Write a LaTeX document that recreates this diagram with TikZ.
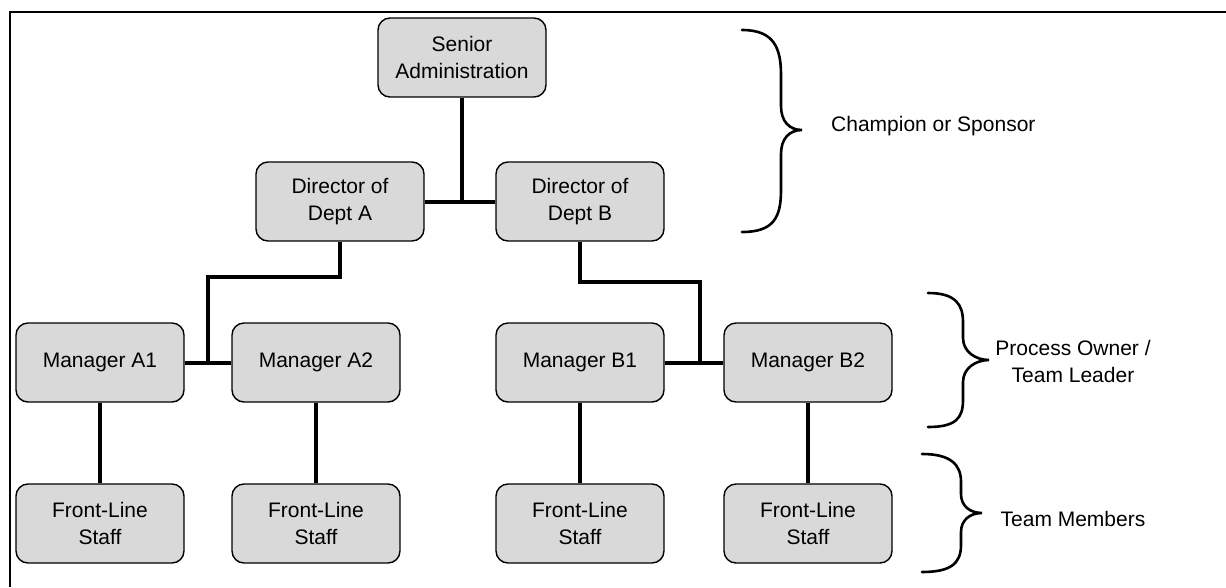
\documentclass[tikz,border=0pt]{standalone}
\usepackage{fontspec}
\setmainfont{Liberation Sans}
\begin{document}
\begin{tikzpicture}[x=1pt,y=-1pt,
  box/.style={draw=black, line width=1.4pt, fill=boxgray, rounded corners=12pt,
    minimum width=168pt, minimum height=79pt, inner sep=0pt, align=center,
    font=\fontsize{21}{27}\selectfont},
  link/.style={line width=4pt},
  bracestyle/.style={line width=2.6pt, line cap=round},
  lbl/.style={font=\fontsize{21}{27}\selectfont, align=center, inner sep=0pt}]
\definecolor{boxgray}{HTML}{D9D9D9}
\useasboundingbox (0,0) rectangle (1226,587);
% frame
\draw[line width=1.8pt] (10,587) -- (10,12) -- (1226,12);
% nodes
\node[box] (sa) at (462,57.5) {Senior\\Administration};
\node[box] (da) at (340,201.5) {Director of\\Dept A};
\node[box] (db) at (580,201.5) {Director of\\Dept B};
\node[box] (ma1) at (100,362.5) {Manager A1};
\node[box] (ma2) at (316,362.5) {Manager A2};
\node[box] (mb1) at (580,362.5) {Manager B1};
\node[box] (mb2) at (808,362.5) {Manager B2};
\node[box] (fa1) at (100,523.5) {Front-Line\\Staff};
\node[box] (fa2) at (316,523.5) {Front-Line\\Staff};
\node[box] (fb1) at (580,523.5) {Front-Line\\Staff};
\node[box] (fb2) at (808,523.5) {Front-Line\\Staff};
% connectors
\coordinate (ka) at (208,277);
\coordinate (kb) at (700,282);
\draw[link] (da.east) -- (db.west);
\draw[link] (sa.south) -- (sa.south |- da.east);
\draw[link] (ma1.east) -- (ma2.west);
\draw[link] (da.south) |- (ka) -- (ka |- ma1.east);
\draw[link] (mb1.east) -- (mb2.west);
\draw[link] (db.south) |- (kb) -- (kb |- mb1.east);
\draw[link] (ma1.south) -- (fa1.north);
\draw[link] (ma2.south) -- (fa2.north);
\draw[link] (mb1.south) -- (fb1.north);
\draw[link] (mb2.south) -- (fb2.north);
% braces
\draw[bracestyle] (742,30) .. controls (774,30) and (781,48) .. (781,75) -- (781,106)
  .. controls (781,121) and (789,130) .. (802,130)
  .. controls (789,130) and (781,139) .. (781,154) -- (781,190)
  .. controls (781,217) and (774,232) .. (742,232);
\draw[bracestyle] (928,293) .. controls (956,293) and (963,305) .. (963,322) -- (963,338)
  .. controls (963,352) and (976,360) .. (989,360)
  .. controls (976,360) and (963,368) .. (963,382) -- (963,400)
  .. controls (963,418) and (956,427) .. (928,427);
\draw[bracestyle] (922,454) .. controls (950,454) and (961,464) .. (961,482) -- (961,494)
  .. controls (961,506) and (970,513) .. (982,513)
  .. controls (970,513) and (961,520) .. (961,532) -- (961,545)
  .. controls (961,564) and (950,572) .. (922,572);
% labels
\node[lbl, anchor=west] (l1) at (831,126) {Champion or Sponsor};
\node[lbl] (l2) at (1073,361) {Process Owner /\\Team Leader};
\node[lbl] (l3) at (1073,519) {Team Members};
\end{tikzpicture}
\end{document}
